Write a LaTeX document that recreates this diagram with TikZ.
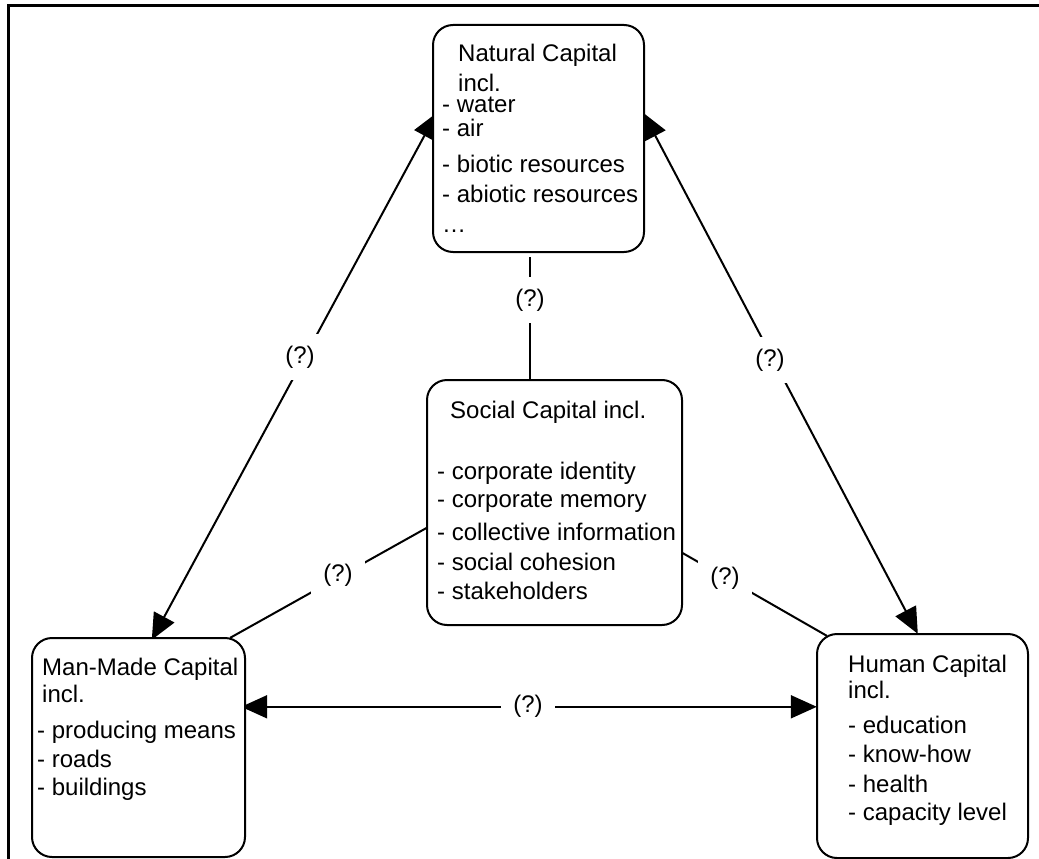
\documentclass[tikz,border=0pt]{standalone}
\usepackage{fontspec}
\setmainfont{Liberation Sans}
\usetikzlibrary{arrows.meta,calc}
\begin{document}
\begin{tikzpicture}[x=1pt,y=-1pt,
  font=\fontsize{24}{28}\selectfont,
  capbox/.style={draw=black,line width=2pt,rounded corners=20pt,fill=white,inner sep=0pt},
  conn/.style={line width=2pt,black},
  biarrow/.style={conn,{Triangle[length=26pt,width=23pt]}-{Triangle[length=26pt,width=23pt]}},
  qlabel/.style={fill=white,inner sep=12pt},
  line/.style={anchor=base west,inner sep=0pt}]
\useasboundingbox (0,0) rectangle (1039,859);
\fill[white] (0,0) rectangle (1039,859);
% frame
\draw[line width=3pt] (8.5,859) -- (8.5,5.5) -- (1039,5.5);
% box geometry (nodes placed first, drawn last)
\path (538.5,138.5) node[minimum width=211pt,minimum height=227pt,inner sep=0pt] (nat) {};
\path (554.5,502.5) node[minimum width=255pt,minimum height=245pt,inner sep=0pt] (soc) {};
\path (138.5,747.5) node[minimum width=213pt,minimum height=219pt,inner sep=0pt] (man) {};
\path (922.5,746) node[minimum width=211pt,minimum height=224pt,inner sep=0pt] (hum) {};
% connectors
\draw[biarrow] ($(nat.north west)+(4,88)$) -- ($(man.north west)+(120,2)$);
\draw[biarrow] ($(nat.north east)+(-1,88)$) -- ($(hum.north west)+(101,0)$);
\draw[biarrow] ($(man.north east)+(-4,69)$) -- ($(hum.north west)+(0,73)$);
\draw[conn] ($(nat.south west)+(97,5)$) -- ($(soc.north west)+(103,0)$);
\draw[conn] ($(man.north east)+(-15,0)$) -- ($(soc.north west)+(0,148)$);
\draw[conn] ($(soc.north east)+(0,173)$) -- ($(hum.north west)+(10,2)$);
% labels
\node[qlabel] (q1) at (300,357) {(?)};
\node[qlabel] (q2) at (770,360) {(?)};
\node[qlabel] (q3) at (530,300) {(?)};
\node[qlabel] (q4) at (338,575) {(?)};
\node[qlabel] (q5) at (725,578) {(?)};
\node[qlabel] (q6) at (528,706) {(?)};
% boxes
\node[capbox,minimum width=211pt,minimum height=227pt] (natb) at (nat) {};
\node[capbox,minimum width=255pt,minimum height=245pt] (socb) at (soc) {};
\node[capbox,minimum width=213pt,minimum height=219pt] (manb) at (man) {};
\node[capbox,minimum width=211pt,minimum height=224pt] (humb) at (hum) {};
% texts
\foreach \x/\y/\t [count=\i] in {458/62/Natural Capital, 458/92/incl., 442/113/- water,
  442/136/- air, 442/172/- biotic resources, 442/202/- abiotic resources, 442/232/…}
  \node[line] (nt\i) at (\x,\y) {\t};
\foreach \x/\y/\t [count=\i] in {450/418/Social Capital incl., 437/479/- corporate identity,
  437/507/- corporate memory, 437/540/- collective information, 437/570/- social cohesion,
  437/599/- stakeholders}
  \node[line] (st\i) at (\x,\y) {\t};
\foreach \x/\y/\t [count=\i] in {42/675/Man-Made Capital, 42/702/incl., 37/738/- producing means,
  37/767/- roads, 37/795/- buildings}
  \node[line] (mt\i) at (\x,\y) {\t};
\foreach \x/\y/\t [count=\i] in {848/672/Human Capital, 848/698/incl., 848/733/- education,
  848/762/- know-how, 848/792/- health, 848/820/- capacity level}
  \node[line] (ht\i) at (\x,\y) {\t};
\end{tikzpicture}
\end{document}
